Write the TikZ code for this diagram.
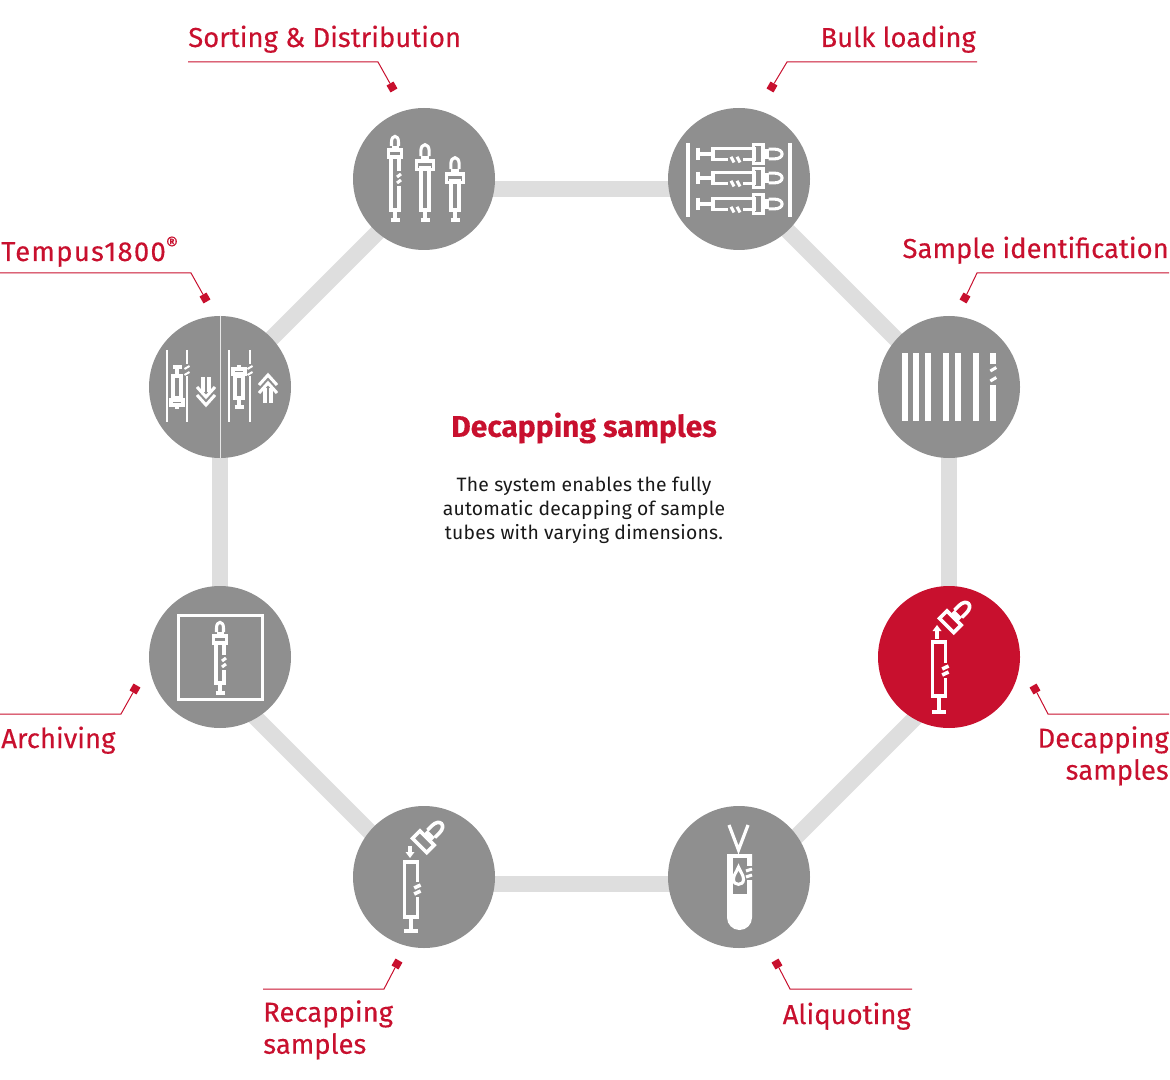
\documentclass[tikz,border=0pt]{standalone}
\usepackage{fontspec}
\setmainfont{Fira Sans}
\newfontfamily\bodyfont[LetterSpace=1.2]{Fira Sans}
\newfontfamily\labelfont[FakeBold=0.25]{Fira Sans}
\newfontfamily\tempusfont[FakeBold=0.25,LetterSpace=4.6]{Fira Sans}
\usetikzlibrary{backgrounds}
\definecolor{labelred}{HTML}{C8102E}
\definecolor{stationgray}{HTML}{8F8F8F}
\definecolor{linkgray}{HTML}{DEDEDE}
\tikzset{
  station/.style={circle,fill=stationgray,minimum size=106.5pt,inner sep=0pt},
  link/.style={draw=linkgray,line width=12pt},
  leader/.style={draw=labelred,line width=.75pt},
  marker/.style={fill=labelred,minimum size=6pt,inner sep=0pt},
  steplabel/.style={text=labelred,inner sep=0pt,font=\labelfont\fontsize{20.6}{24}\selectfont},
  iconline/.style={draw=white,line width=2.3pt},
  pics/tubecap/.style={code={
    \fill[white] (-3.5,-4) rectangle (3.5,0);
    \draw[iconline] (-3.5,-4) -- (-3.5,-8) .. controls (-3.5,-15.5) and (3.5,-15.5) .. (3.5,-8) -- (3.5,-4);
    \draw[iconline] (-6.7,0) rectangle (6.7,7);
  }},
  pics/tubeneck/.style={code={
    \draw[iconline] (0,0) -- (0,-4);
    \draw[iconline] (-6,0) rectangle (6,5);
  }},
  pics/tubeplain/.style 2 args={code={
    \draw[iconline] (-4,7) -- (-4,#1) -- (4,#1) -- (4,7) -- cycle;
    \draw[iconline] (0,#1) -- (0,#2) (-4.5,#2) -- (4.5,#2);
  }},
  pics/tubebroken/.style n args={3}{code={
    \draw[iconline] (4,#3) -- (4,7) -- (-4,7) -- (-4,#1) -- (4,#1) -- (4,#3+15);
    \draw[iconline] (2,#3+6) -- (6,#3+3) (2,#3+12) -- (6,#3+9);
    \draw[iconline] (0,#1) -- (0,#2) (-4.5,#2) -- (4.5,#2);
  }},
  pics/dblarrow/.style={code={
    \draw[iconline] (-9,10) -- (0,0) -- (9,10) (-9,18) -- (0,8) -- (9,18);
    \draw[iconline] (-3,13) -- (-3,28) (3,13) -- (3,28);
  }},
}
\begin{document}
\begin{tikzpicture}[x=.75pt,y=-.75pt]
\useasboundingbox (0,0) rectangle (1170,1080);

% stations
\node[station] (sorting) at (424,179) {};
\node[station] (bulk) at (739,179) {};
\node[station] (ident) at (949,387) {};
\node[station,fill=labelred] (decap) at (949,657) {};
\node[station] (aliquot) at (739,877) {};
\node[station] (recap) at (424,877) {};
\node[station] (archive) at (220,657) {};
\node[station] (tempus) at (220,387) {};

\begin{scope}[on background layer]
\draw[link] ([yshift=-7.5pt]sorting.center) -- ([yshift=-7.5pt]bulk.center);
\draw[link] ([yshift=-2.25pt]bulk.center) -- ([yshift=-3.75pt]ident.center);
\draw[link] (ident.center) -- (decap.center);
\draw[link] ([yshift=-20.25pt]decap.center) -- ([yshift=-12.75pt]aliquot.center);
\draw[link] ([yshift=-5.25pt]aliquot.center) -- ([yshift=-5.25pt]recap.center);
\draw[link] ([yshift=-6.75pt]recap.center) -- ([yshift=-18.75pt]archive.center);
\draw[link] (archive.center) -- (tempus.center);
\draw[link] ([yshift=-2.25pt]tempus.center) -- ([yshift=-5.25pt]sorting.center);
\end{scope}

% centre text
\node[text=labelred,font=\labelfont\fontsize{22.5}{24}\selectfont\bfseries] (title) at (584,428) {Decapping samples};
\node[align=center,text=black!90,font=\bodyfont\fontsize{14.5}{18}\selectfont] (body) at (584,510)
  {The system enables the fully\\automatic decapping of sample\\tubes with varying dimensions.};

% labels
\node[steplabel,anchor=base west] (sortinglabel) at (188,47) {Sorting \& Distribution};
\node[steplabel,anchor=base east] (bulklabel) at (976,47) {Bulk loading};
\node[steplabel,anchor=base east] (identlabel) at (1169,258) {Sample identification};
\node[steplabel,anchor=base west,font=\tempusfont\fontsize{20.6}{24}\selectfont] (tempuslabel) at (1,261) {Tempus1800\textsuperscript{®}};
\node[steplabel,anchor=base west] (archivelabel) at (1,748) {Archiving};
\node[steplabel,anchor=north east,align=right] (decaplabel) at (1169,726) {Decapping\\samples};
\node[steplabel,anchor=base east] (aliquotlabel) at (911,1024) {Aliquoting};
\node[steplabel,anchor=north west,align=left] (recaplabel) at (263,1000) {Recapping\\samples};

% leaders
\node[marker,rotate=30] (sortingmark) at (392,87) {};
\node[marker,rotate=-30] (bulkmark) at (772,87) {};
\node[marker,rotate=-30] (identmark) at (965,298) {};
\node[marker,rotate=30] (tempusmark) at (205,298) {};
\node[marker,rotate=-30] (archivemark) at (135,689) {};
\node[marker,rotate=30] (decapmark) at (1035,689) {};
\node[marker,rotate=30] (aliquotmark) at (777,964) {};
\node[marker,rotate=-30] (recapmark) at (397,964) {};
\coordinate (sortinga) at (188,62);
\coordinate (sortingb) at (378,62);
\coordinate (bulka) at (977,62);
\coordinate (bulkb) at (787,62);
\coordinate (identa) at (1169,273);
\coordinate (identb) at (977,273);
\coordinate (tempusa) at (0,273);
\coordinate (tempusb) at (191,273);
\coordinate (archivea) at (0,714);
\coordinate (archiveb) at (121,714);
\coordinate (decapa) at (1169,714);
\coordinate (decapb) at (1048,714);
\coordinate (aliquota) at (912,989);
\coordinate (aliquotb) at (790,989);
\coordinate (recapa) at (263,989);
\coordinate (recapb) at (384,989);
\draw[leader] (sortinga) -- (sortingb) -- (sortingmark);
\draw[leader] (bulka) -- (bulkb) -- (bulkmark);
\draw[leader] (identa) -- (identb) -- (identmark);
\draw[leader] (tempusa) -- (tempusb) -- (tempusmark);
\draw[leader] (archivea) -- (archiveb) -- (archivemark);
\draw[leader] (decapa) -- (decapb) -- (decapmark);
\draw[leader] (aliquota) -- (aliquotb) -- (aliquotmark);
\draw[leader] (recapa) -- (recapb) -- (recapmark);

% sorting icon
\pic at (395,150) {tubecap};
\pic at (395,150) {tubebroken={60}{70}{21}};
\pic[scale=1.2] at (425,161) {tubecap};
\pic at (425,161) {tubeplain={49}{59}};
\pic[scale=1.2] at (455,174) {tubecap};
\pic at (455,174) {tubeplain={36}{46}};

% bulk icon
\draw[iconline] (688,143) -- (688,217) (790,143) -- (790,217);
\foreach \y in {154,178,204} {
  \pic[rotate=-90,scale=1.4] at (763,\y) {tubecap};
  \pic[rotate=-90,xscale=1.4] at (761,\y) {tubebroken={48}{63}{18}};
}

% identification icon
\foreach \x in {904.7,916.3,928,946.3,957.7,975.7} {
  \fill[white] (\x-3,353) rectangle (\x+3,421);
}
\fill[white] (990.3,353) rectangle (996.3,364);
\fill[white] (990.3,385) rectangle (996.3,421);
\draw[iconline] (990.3,371) -- (996.3,367.5) (990.3,381) -- (996.3,377.5);

% decapping icon
\begin{scope}[iconline/.style={draw=white,line width=2.7pt}]
\pic[scale=1.5,rotate=-45] at (954,618) {tubecap};
\pic[xscale=1.6] at (939,635) {tubebroken={61}{77}{28}};
\draw[iconline] (937,639) -- (937,630);
\fill[white] (937,625) -- (941.5,631) -- (932.5,631) -- cycle;
\end{scope}

% aliquoting icon
\draw[iconline,line width=2.4pt] (729,825) -- (738.5,850) -- (748,825);
\fill[white] (727,854) -- (752,854) -- (752,917.5) arc[start angle=0,end angle=180,radius=12.5] -- cycle;
\fill[stationgray] (733,858) rectangle (747,894);
\fill[stationgray] (746,866) rectangle (753,880);
\draw[iconline] (746,871) -- (752,869) (746,877) -- (752,875);
\draw[iconline] (738.5,867) .. controls (736,873) and (733.5,875) .. (733.5,879.5) .. controls (733.5,886) and (743.5,886) .. (743.5,879.5) .. controls (743.5,875) and (741,873) .. (738.5,867) -- cycle;

% recapping icon
\begin{scope}[iconline/.style={draw=white,line width=2.7pt}]
\pic[scale=1.5,rotate=-45] at (427,838) {tubecap};
\pic[xscale=1.6] at (411,855) {tubebroken={62}{76}{27}};
\draw[iconline] (410,846) -- (410,853);
\fill[white] (410,858) -- (414.5,852) -- (405.5,852) -- cycle;
\end{scope}

% archive icon
\draw[iconline] (178.5,615.5) rectangle (262.5,699.5);
\pic at (220,636) {tubecap};
\pic at (220,636) {tubebroken={47}{57}{19}};

% tempus icon
\draw[draw=white,line width=.75pt,opacity=.8] (tempus.north) -- (tempus.south);
\draw[iconline,line width=1.9pt] (167,350) -- (167,422) (229,350) -- (229,422);
\draw[iconline,line width=1.9pt] (187,350) -- (187,364) (187,376) -- (187,422);
\draw[iconline,line width=1.9pt] (250,350) -- (250,364) (250,376) -- (250,422);
\draw[iconline,line width=1.5pt] (184.5,369) -- (189.5,366) (184.5,375) -- (189.5,372);
\draw[iconline,line width=1.5pt] (247.5,369) -- (252.5,366) (247.5,375) -- (252.5,372);
\pic[rotate=180] at (177,405) {tubeneck};
\pic[rotate=180] at (177,405) {tubeplain={29}{38}};
\pic at (239,369) {tubeneck};
\pic at (239,369) {tubeplain={29}{38}};
\pic[rotate=180] at (206,405) {dblarrow};
\pic at (268,375) {dblarrow};
\end{tikzpicture}
\end{document}
